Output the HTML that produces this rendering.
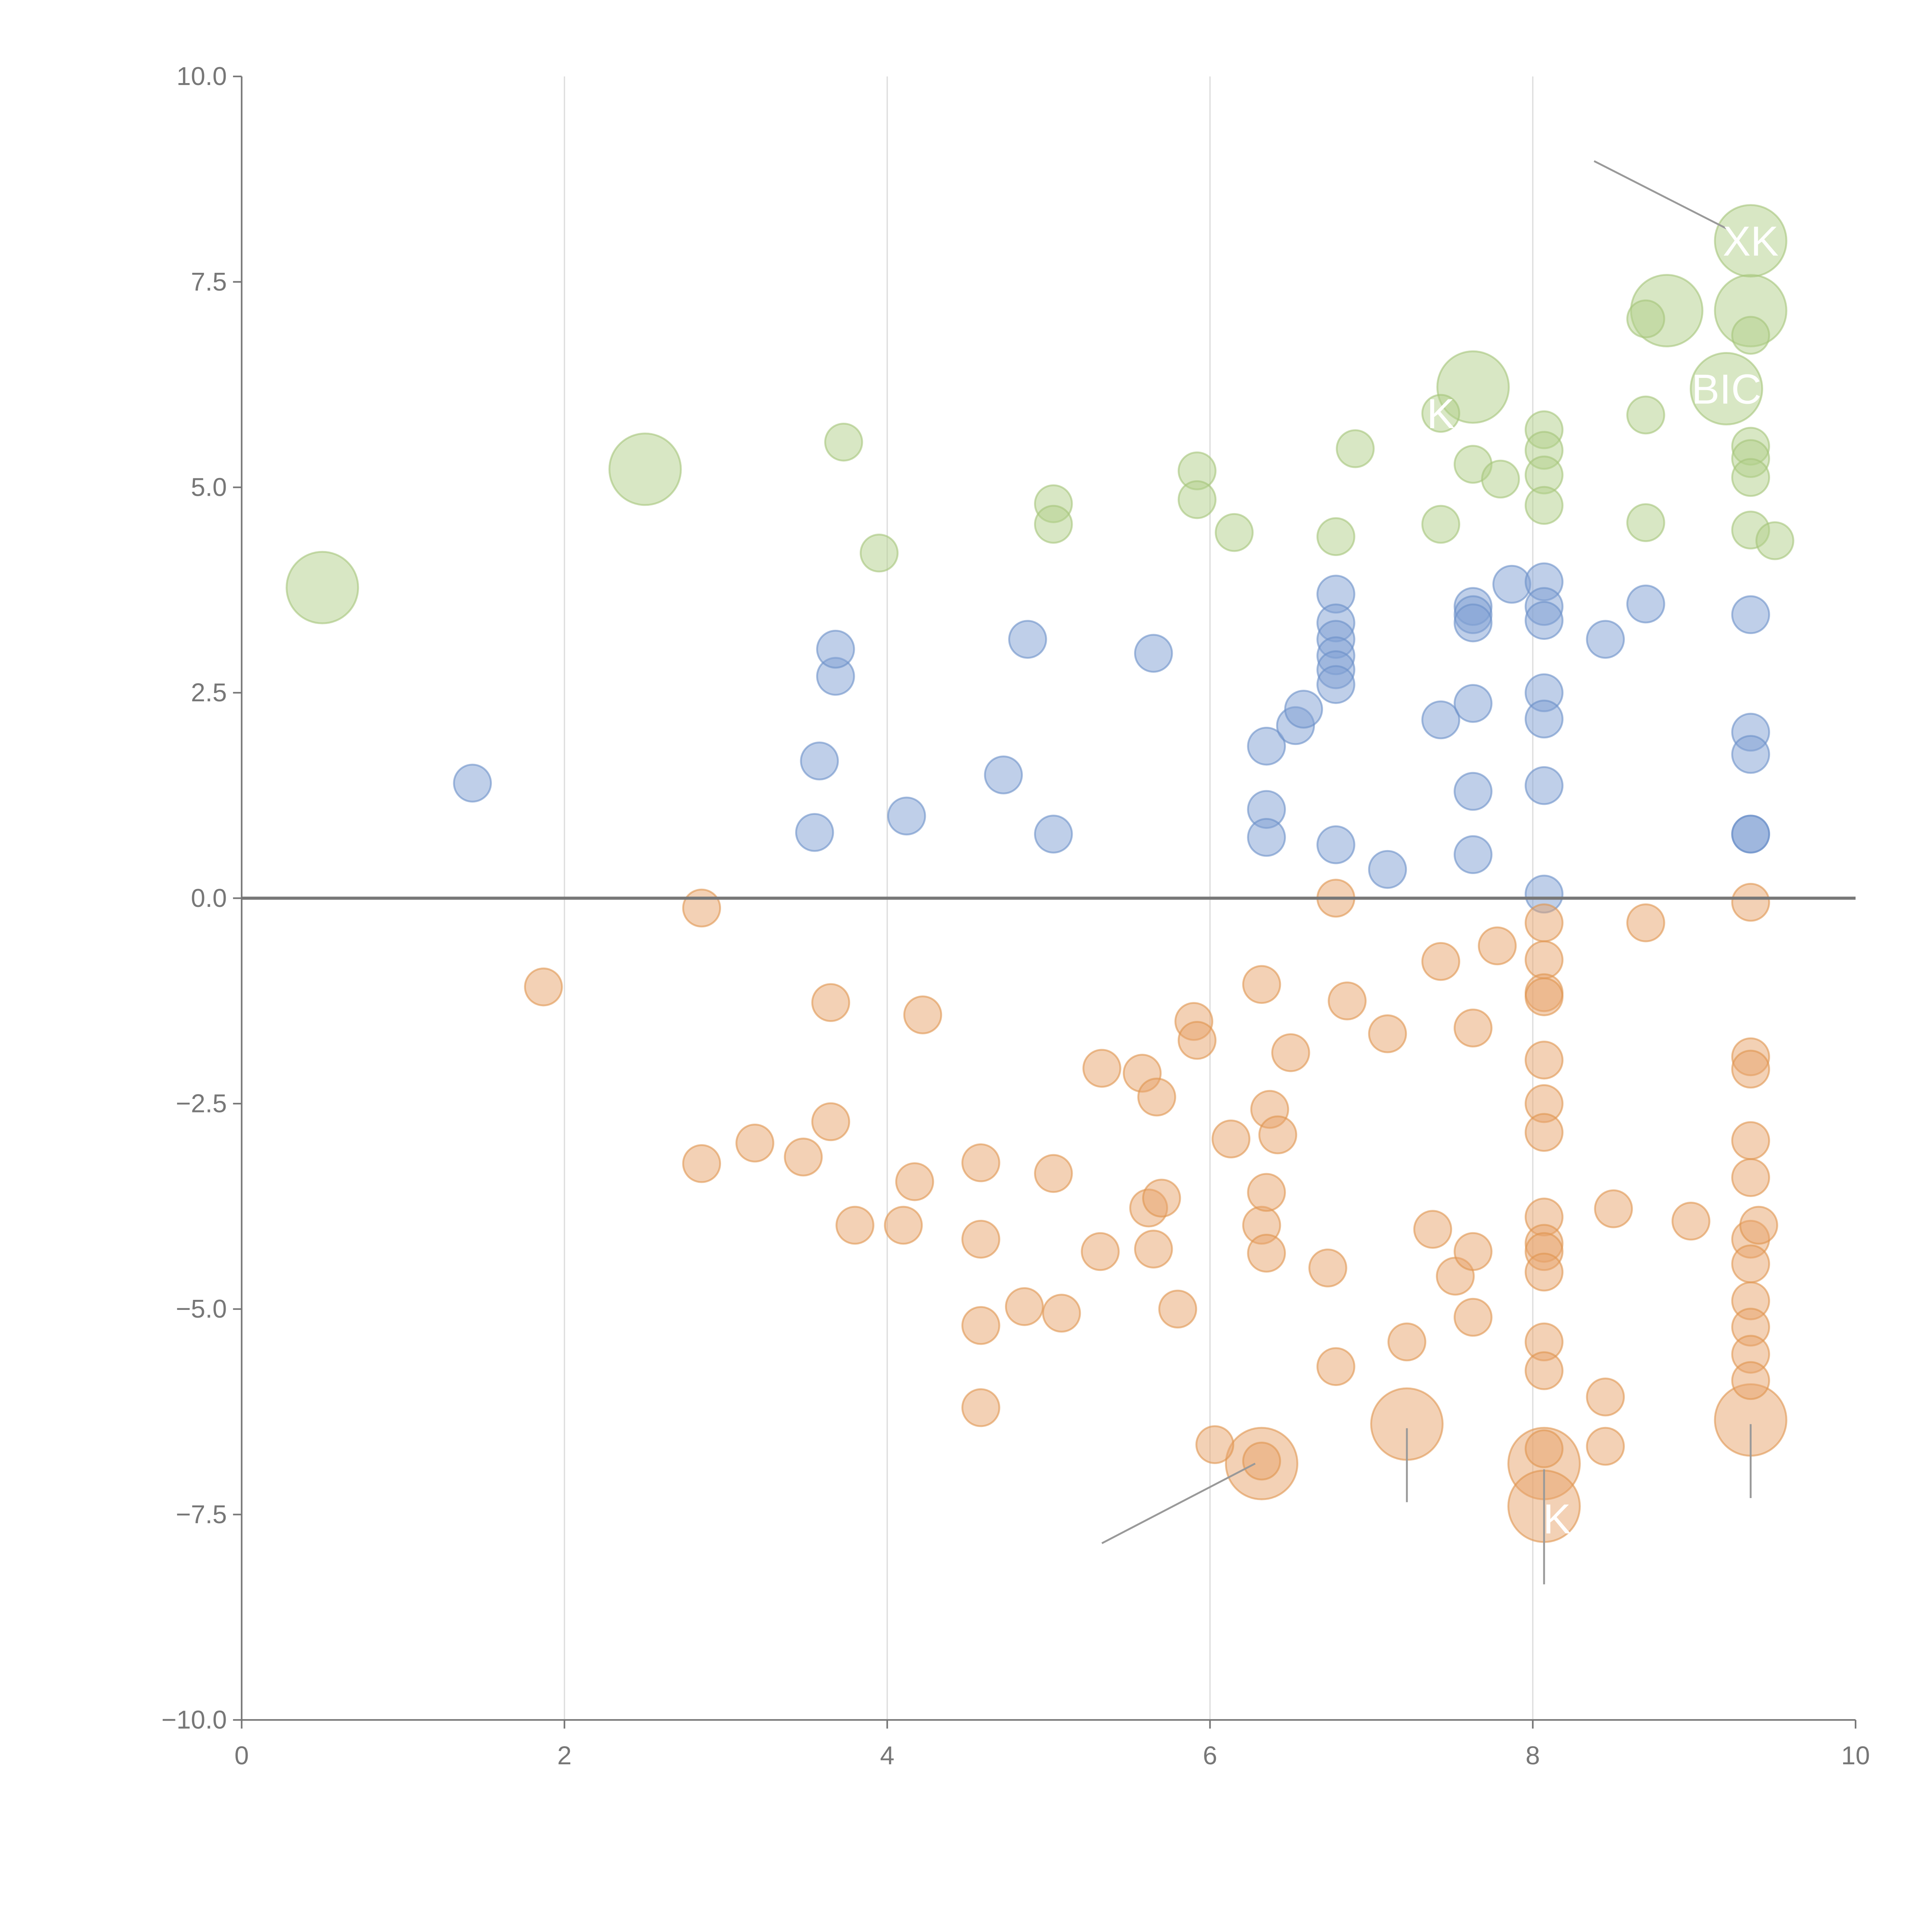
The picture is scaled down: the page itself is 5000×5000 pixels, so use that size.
<!DOCTYPE html>
<html><head><meta charset="utf-8"><style>
html,body{margin:0;padding:0;background:#fff}
svg{display:block}
text{font-family:"Liberation Sans",sans-serif;}
</style></head><body>
<svg id="chart" width="5000" height="5000" viewBox="0 0 1567 1567" xmlns="http://www.w3.org/2000/svg">
<g id="grid"></g>
<g id="marks"></g>
<g id="axes"></g>
<g id="ann"></g>
</svg>
<script>
const xTicks=[0,2,4,6,8,10];
const yTicks=[10,7.5,5,2.5,0,-2.5,-5,-7.5,-10];
const greenSmall=[[3.73,5.55],[3.95,4.2],[5.03,4.8],[5.03,4.55],[5.92,5.2],[5.92,4.85],[6.15,4.45],[6.78,4.4],[6.9,5.47],[7.43,5.9],[7.43,4.55],[7.63,5.28],[7.8,5.1],[8.07,5.7],[8.07,5.45],[8.07,5.15],[8.07,4.78],[8.7,7.05],[8.7,5.88],[8.7,4.57],[9.35,6.85],[9.35,5.5],[9.35,5.35],[9.35,5.12],[9.35,4.48],[9.5,4.35]];
const greenBig=[[0.5,3.78],[2.5,5.22],[7.63,6.22],[8.83,7.15],[9.35,7.15],[9.35,8.0],[9.2,6.2]];
const blueSmall=[[1.43,1.4],[3.55,0.8],[3.58,1.67],[3.68,2.7],[3.68,3.03],[4.12,1.0],[4.72,1.5],[4.87,3.15],[5.03,0.78],[5.65,2.98],[6.35,1.85],[6.35,1.08],[6.35,0.74],[6.53,2.1],[6.58,2.3],[6.78,3.7],[6.78,3.35],[6.78,3.15],[6.78,2.95],[6.78,2.78],[6.78,2.6],[6.78,0.65],[7.1,0.35],[7.43,2.17],[7.63,3.55],[7.63,3.45],[7.63,3.35],[7.63,2.37],[7.63,1.3],[7.63,0.53],[7.87,3.82],[8.07,3.85],[8.07,3.55],[8.07,3.38],[8.07,2.5],[8.07,2.18],[8.07,1.37],[8.07,0.05],[8.45,3.15],[8.7,3.58],[9.35,3.45],[9.35,2.02],[9.35,1.75],[9.35,0.78],[9.35,0.78]];
const orangeSmall=[[1.87,-1.08],[2.85,-0.12],[2.85,-3.23],[3.18,-2.98],[3.48,-3.15],[3.65,-1.27],[3.65,-2.72],[3.8,-3.98],[4.1,-3.98],[4.17,-3.45],[4.22,-1.42],[4.58,-3.22],[4.58,-4.15],[4.58,-5.2],[4.58,-6.2],[4.85,-4.97],[5.03,-3.35],[5.08,-5.05],[5.32,-4.3],[5.33,-2.07],[5.58,-2.13],[5.65,-4.27],[5.67,-2.42],[5.62,-3.77],[5.7,-3.65],[5.8,-5.0],[5.9,-1.5],[5.92,-1.73],[6.03,-6.65],[6.13,-2.93],[6.32,-1.05],[6.32,-3.98],[6.35,-4.32],[6.35,-3.58],[6.37,-2.57],[6.42,-2.88],[6.5,-1.88],[6.73,-4.5],[6.78,0.0],[6.78,-5.7],[6.85,-1.25],[7.1,-1.65],[7.22,-5.4],[7.38,-4.03],[7.43,-0.77],[7.52,-4.6],[7.63,-1.58],[7.63,-4.3],[7.63,-5.1],[7.78,-0.58],[8.07,-0.3],[8.07,-0.75],[8.07,-1.15],[8.07,-1.2],[8.07,-1.97],[8.07,-2.5],[8.07,-2.85],[8.07,-3.88],[8.07,-4.2],[8.07,-4.3],[8.07,-4.55],[8.07,-5.4],[8.07,-5.75],[8.07,-6.7],[8.45,-6.07],[8.45,-6.67],[8.5,-3.78],[8.7,-0.3],[8.98,-3.93],[9.35,-0.05],[9.35,-1.93],[9.35,-2.08],[9.35,-2.95],[9.35,-3.4],[9.35,-4.15],[9.35,-4.45],[9.35,-4.9],[9.35,-5.22],[9.35,-5.55],[9.35,-5.87],[9.4,-3.98],[6.32,-6.85]];
const orangeBig=[[6.32,-6.88],[7.22,-6.4],[8.07,-6.88],[8.07,-7.4],[9.35,-6.35]];
const leaders=[[[8.38,8.97],[9.2,8.15]],[[5.33,-7.85],[6.28,-6.88]],[[7.22,-6.45],[7.22,-7.35]],[[8.07,-6.95],[8.07,-8.35]],[[9.35,-6.4],[9.35,-7.3]]];
const labels=[["XK",9.35,8.0],["BIC",9.2,6.2],["K",7.43,5.9],["K",8.15,-7.55]];

const NS="http://www.w3.org/2000/svg";
const X0=196,X1=1505,Y0=1395,Y1=62;
const sx=v=>X0+(v-0)/(10-0)*(X1-X0);
const sy=v=>Y0-(v+10)/20*(Y0-Y1);
function mk(tag,attrs,parent){const e=document.createElementNS(NS,tag);for(const k in attrs)e.setAttribute(k,attrs[k]);parent.appendChild(e);return e;}
const grid=document.getElementById('grid'),marks=document.getElementById('marks'),axes=document.getElementById('axes'),ann=document.getElementById('ann');
xTicks.slice(1,5).forEach(t=>{const l=mk('line',{x1:sx(t),x2:sx(t),y1:Y1,y2:Y0,stroke:'#dcdcdc','stroke-width':1},grid);

});
function bubbles(arr,r,fill,stroke,name){arr.forEach(p=>{const c=mk('circle',{cx:sx(p[0]),cy:sy(p[1]),r:r,fill:fill,'fill-opacity':0.5,stroke:stroke,'stroke-opacity':0.6,'stroke-width':1.5},marks);

});}
bubbles(greenBig,29,'#b2cf8a','#a5c57a','green-bubble-large');
bubbles(greenSmall,15,'#b2cf8a','#a5c57a','green-bubble');
bubbles(blueSmall,15,'#7fa0d3','#6a8fc8','blue-bubble');
bubbles(orangeBig,29,'#e8a46c','#e0954f','orange-bubble-large');
bubbles(orangeSmall,15,'#e8a46c','#e0954f','orange-bubble');
let a=mk('line',{x1:X0,x2:X0,y1:Y1,y2:Y0,stroke:'#777','stroke-width':1.3},axes);


a=mk('line',{x1:X0,x2:X1,y1:Y0,y2:Y0,stroke:'#777','stroke-width':1.3},axes);


a=mk('line',{x1:X0,x2:X1,y1:sy(0),y2:sy(0),stroke:'#777','stroke-width':2.5},axes);


xTicks.forEach(t=>{mk('line',{x1:sx(t),x2:sx(t),y1:Y0,y2:Y0+7,stroke:'#777','stroke-width':1.3},axes);
const tx=mk('text',{x:sx(t),y:Y0+36,'text-anchor':'middle','font-size':21,fill:'#777'},axes);tx.textContent=t;

});
yTicks.forEach(t=>{mk('line',{x1:X0-7,x2:X0,y1:sy(t),y2:sy(t),stroke:'#777','stroke-width':1.3},axes);
const tx=mk('text',{x:X0-12,y:sy(t)+7,'text-anchor':'end','font-size':21,fill:'#777'},axes);tx.textContent=(t<0?'\u2212':'')+Math.abs(t).toFixed(1);

});
leaders.forEach(s=>{const l=mk('line',{x1:sx(s[0][0]),y1:sy(s[0][1]),x2:sx(s[1][0]),y2:sy(s[1][1]),stroke:'#999','stroke-width':1.5},ann);

});
labels.forEach(s=>{const t=mk('text',{x:sx(s[1]),y:sy(s[2])+12,'text-anchor':'middle','font-size':34,fill:'#fff'},ann);t.textContent=s[0];

});
</script>
</body></html>
